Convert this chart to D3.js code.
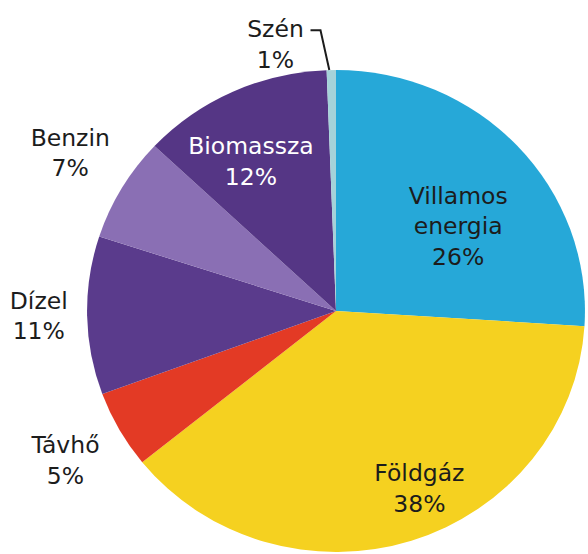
<!DOCTYPE html>
<html>
<head>
<meta charset="utf-8">
<script src="https://cdn.jsdelivr.net/npm/d3@7"></script>
<style>
  html, body { margin: 0; padding: 0; background: #fff; }
  svg text { font-family: 'DejaVu Sans', Verdana, sans-serif; font-size: 23.5px; }
</style>
</head>
<body>
<svg id="chart" width="588" height="554"></svg>
<script>
// slices clockwise from 12 o'clock
const categories = ['Villamos energia', 'Földgáz', 'Távhő', 'Dízel', 'Benzin', 'Biomassza', 'Szén']
const shares = [26, 38.2, 5.2, 10.6, 7, 12.4, 0.6]
const shareLabels = ['26%', '38%', '5%', '11%', '7%', '12%', '1%']
const labelLines = [['Villamos', 'energia'], ['Földgáz'], ['Távhő'], ['Dízel'], ['Benzin'], ['Biomassza'], ['Szén']]
const colors = ['#26a8d8', '#f5d120', '#e33a25', '#5a3b8c', '#8a6fb4', '#553685', '#a5d2d9']

const W = 588
const H = 554
const cx = 336
const cy = 311
const R = 241
const sx = 1.033 // pie is a touch wider than tall

// label placement: inside or outside the pie, plus a small nudge
const inside = [true, true, false, false, false, true, false]
const nudges = [[13, 14], [38, 39], [-17, 10], [-6, -1], [-15, -15], [-23, -18], [-55, 15]]
const lineH = 30.5
const capH = 17

const svg = d3.select('#chart')

const pie = d3.pie().sort(null).value((d) => d)
const arcs = pie(shares)

const arc = d3.arc().innerRadius(0).outerRadius(R)
const inArc = d3.arc().innerRadius(145).outerRadius(145)
const outArc = d3.arc().innerRadius(282).outerRadius(282)

const g = svg.append('g')
  .attr('transform', `translate(${cx},${cy}) scale(${sx},1)`)

g.selectAll('path.slice')
  .data(arcs)
  .enter()
  .append('path')
  .attr('class', 'slice')
  .attr('d', arc)
  .attr('fill', (d, i) => colors[i])

const labels = svg.append('g')

arcs.forEach((d, i) => {
  const c = (inside[i] ? inArc : outArc).centroid(d)
  const x = cx + c[0] * sx + nudges[i][0]
  const yMid = cy + c[1] + nudges[i][1]
  const lines = labelLines[i].concat([shareLabels[i]])
  const y0 = yMid - (lines.length - 1) * lineH / 2 + capH / 2
  const t = labels.append('text')
    .attr('text-anchor', 'middle')
    .attr('fill', i === 5 ? '#ffffff' : '#1c1c1c')
  lines.forEach((s, k) => {
    t.append('tspan')
      .attr('x', x)
      .attr('y', y0 + k * lineH)
      .text(s)
  })

  // leader line for the thin slice
  if (i === 6) {
    const edge = d3.arc().innerRadius(R).outerRadius(R).centroid(d)
    const ex = cx + edge[0] * sx
    const ey = cy + edge[1]
    const ly = y0 - 7
    const path = d3.path()
    path.moveTo(x + 56 / 2 + 7, ly)
    path.lineTo(x + 56 / 2 + 17, ly)
    path.lineTo(ex - 2, ey)
    labels.append('path')
      .attr('d', path.toString())
      .attr('fill', 'none')
      .attr('stroke', '#1c1c1c')
      .attr('stroke-width', 2)
  }
})
</script>
</body>
</html>
